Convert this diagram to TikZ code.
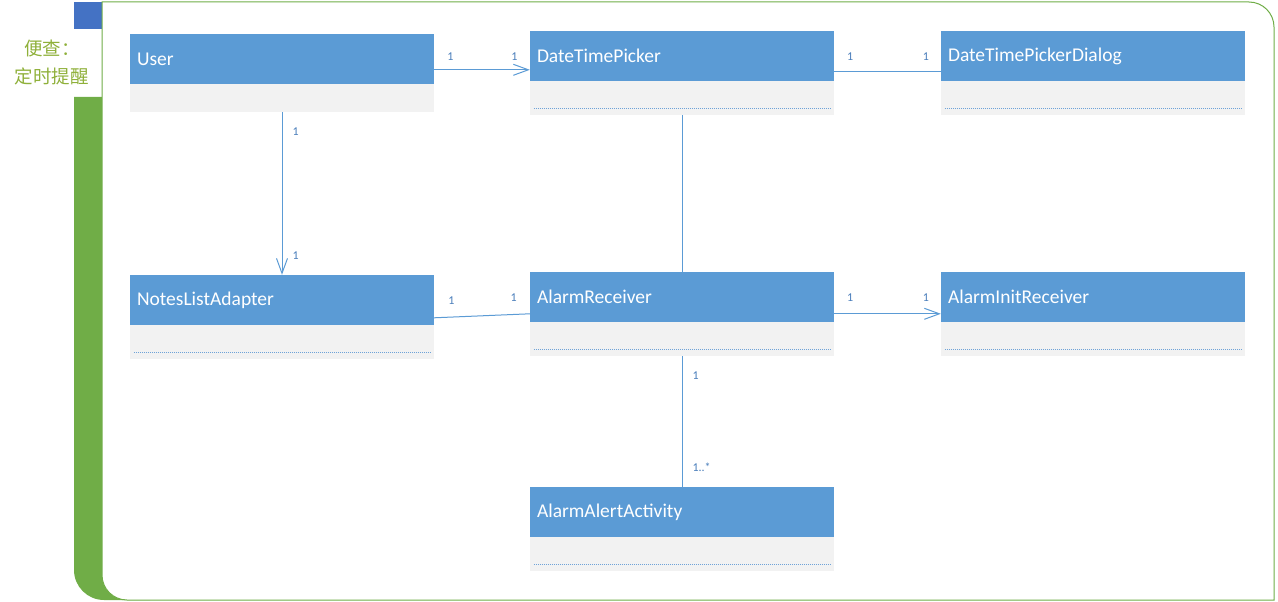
\documentclass[tikz,border=0pt]{standalone}
\usepackage{fontspec}
\setmainfont{Carlito}
\newfontfamily\cjk{Noto Sans CJK SC}
\usetikzlibrary{arrows.meta}
\definecolor{hdrblue}{HTML}{5B9BD5}
\definecolor{bodygray}{HTML}{F2F2F2}
\definecolor{lblblue}{HTML}{4A7EBB}
\definecolor{dotblue}{HTML}{6FA3D8}
\definecolor{barblue}{HTML}{4472C4}
\definecolor{bargreen}{HTML}{70AD47}
\definecolor{titlegreen}{HTML}{8FB03A}
\tikzset{
  clsbody/.style={fill=bodygray, draw=none, minimum width=304, inner sep=0},
  clshead/.style={fill=hdrblue, draw=none, minimum width=304, minimum height=50, inner sep=0,
    text=white, font=\fontsize{19.5}{22}\selectfont, align=left, text width=290, anchor=north west},
  dotline/.style={draw=dotblue, line width=1, dash pattern=on 1.2 off 0.8},
  conn/.style={draw=hdrblue, line width=1},
  barb/.style={-{Straight Barb[length=15, width=11, line width=1]}},
  lbl/.style={text=lblblue, font=\fontsize{12}{14}\selectfont, inner sep=0},
}
\begin{document}
\begin{tikzpicture}[x=1pt,y=-1pt]
\useasboundingbox (0,0) rectangle (1278,602);
% background decoration
\fill[barblue] (74,2) rectangle (102,29);
\fill[bargreen] (150,97) -- (74,97) -- (74,570) arc[start angle=180, end angle=90, radius=30] -- (150,600) -- cycle;
\filldraw[fill=white, draw=bargreen, line width=1]
  (102,2) -- (1249,2) arc[start angle=270, end angle=360, radius=25]
  -- (1274,600) -- (127,600) arc[start angle=90, end angle=180, radius=25] -- cycle;
\node[text=titlegreen, font=\cjk\fontsize{18.5}{28}\selectfont, align=center, inner sep=0] (title) at (52,62) {便查：\\定时提醒};
% classes
\node[clsbody, minimum height=78] (user) at (282,73) {};
\node[clshead] (userh) at (user.north west) {User};
\node[clsbody, minimum height=84] (dtp) at (682,73) {};
\node[clshead] (dtph) at (dtp.north west) {DateTimePicker};
\node[clsbody, minimum height=84] (dtpd) at (1093,73) {};
\node[clshead] (dtpdh) at (dtpd.north west) {DateTimePickerDialog};
\node[clsbody, minimum height=84] (nla) at (282,317) {};
\node[clshead] (nlah) at (nla.north west) {NotesListAdapter};
\node[clsbody, minimum height=84] (ar) at (682,314) {};
\node[clshead] (arh) at (ar.north west) {AlarmReceiver};
\node[clsbody, minimum height=84] (air) at (1093,314) {};
\node[clshead] (airh) at (air.north west) {AlarmInitReceiver};
\node[clsbody, minimum height=84] (aaa) at (682,529) {};
\node[clshead] (aaah) at (aaa.north west) {AlarmAlertActivity};
% dotted separators
\foreach \n in {dtp,dtpd,nla,ar,air,aaa}{
  \draw[dotline] ([xshift=4,yshift=7]\n.south west) -- ([xshift=-4,yshift=7]\n.south east);
}
% connectors
\draw[conn, barb] ([yshift=-36]user.north east) -- node[lbl, pos=0.17, above=9]{1} node[lbl, pos=0.84, above=9]{1} ([yshift=-39]dtp.north west);
\draw[conn] ([yshift=-41]dtp.north east) -- node[lbl, pos=0.15, above=11]{1} node[lbl, pos=0.86, above=11]{1} ([yshift=-41]dtpd.north west);
\draw[conn] (dtp.south) -- (ar.north);
\draw[conn, barb] (user.south) -- node[lbl, pos=0.12, right=10]{1} node[lbl, pos=0.88, right=10]{1} (nla.north);
\draw[conn] ([yshift=-43]nla.north east) -- node[lbl, pos=0.18, above=12]{1} node[lbl, pos=0.83, above=12]{1} ([yshift=-42]ar.north west);
\draw[conn, barb] ([yshift=-42]ar.north east) -- node[lbl, pos=0.15, above=12]{1} node[lbl, pos=0.86, above=12]{1} ([yshift=-42]air.north west);
\draw[conn] (ar.south) -- node[lbl, pos=0.15, anchor=west, xshift=10]{1} node[lbl, pos=0.85, anchor=west, xshift=10]{1..*} (aaa.north);
\end{tikzpicture}
\end{document}
